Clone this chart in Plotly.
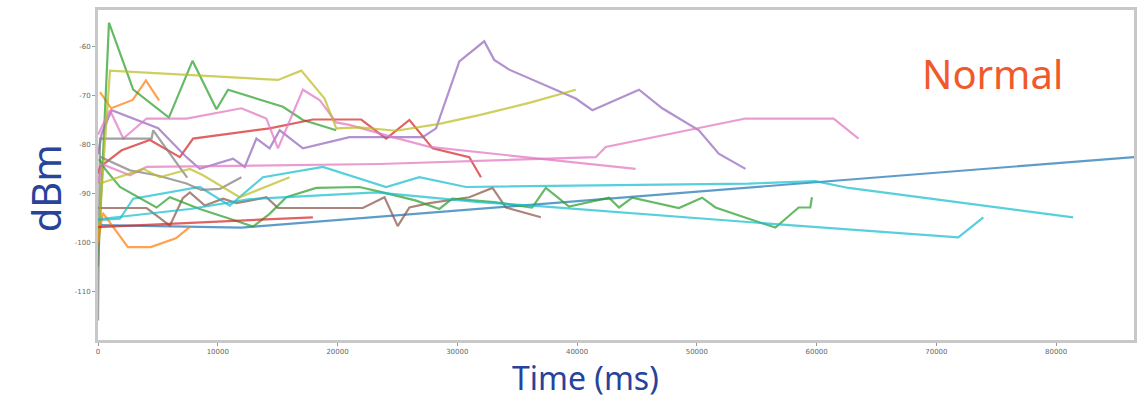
import plotly.graph_objects as go

# ---- data (time in ms, signal in dBm) ----
blue_t = [0, 300, 12000, 88000]
blue_v = [-97.5, -96.5, -97.0, -82.3]

orange1_t = [170, 1100, 2900, 4000, 5100]
orange1_v = [-69.3, -72.6, -70.9, -66.9, -71.0]

orange2_t = [0, 400, 2500, 4400, 6500, 7700]
orange2_v = [-100.0, -94.0, -101.0, -101.0, -99.2, -96.8]

greenA_t = [0, 917, 2940, 5920, 7890, 9890, 10860, 15440, 17110, 19890]
greenA_v = [-105.0, -55.1, -68.8, -74.5, -62.9, -72.8, -68.8, -72.3, -75.0, -77.1]

greenB_t = [100, 583, 1833, 4890, 6000, 8500, 11000, 12940, 14330, 15720, 18220, 21830,
            23780, 26560, 28500, 29580, 33080, 36250, 37390, 39330, 42670, 43500, 44610,
            48500, 50440, 51560, 54330, 56560, 58500, 59470, 59610]
greenB_v = [-83.0, -85.0, -88.7, -92.9, -90.8, -93.2, -95.2, -96.8, -94.2, -90.8, -88.9, -88.7,
            -89.8, -91.5, -93.2, -91.1, -91.8, -92.9, -88.9, -92.7, -90.9, -92.9, -90.9,
            -93.0, -90.9, -92.9, -95.2, -97.0, -92.9, -92.9, -90.8]

redA_t = [0, 167, 1975, 4333, 6833, 7940, 14330, 17940, 21975, 24060, 26000, 27940, 31000, 31975]
redA_v = [-86.0, -84.6, -81.2, -79.1, -82.6, -78.8, -76.7, -74.9, -74.9, -78.8, -75.0, -80.8, -82.6, -86.7]

redB_t = [0, 17940]
redB_v = [-96.9, -94.9]

purple_t = [0, 308, 1140, 5025, 7390, 8500, 11275, 12250, 13225, 14330, 15170, 17110, 21000,
            24330, 27110, 28225, 30170, 32250, 33080, 34330, 39890, 41275, 45170, 47110,
            50170, 51830, 54060]
purple_v = [-82.0, -77.8, -73.0, -76.7, -82.6, -85.0, -82.9, -84.6, -78.8, -80.8, -77.1, -80.8, -78.5,
            -78.5, -78.5, -76.7, -63.0, -58.9, -62.7, -64.7, -70.6, -73.0, -68.8, -72.6,
            -77.1, -81.9, -85.0]

brown_t = [0, 167, 4060, 6000, 7080, 7670, 8920, 10440, 11560, 12670, 14060, 15025, 22110,
           23920, 25025, 26000, 27670, 31000, 32940, 34060, 36975]
brown_v = [-93.0, -93.0, -93.0, -96.6, -91.0, -89.8, -92.5, -91.1, -92.0, -91.5, -90.8, -93.0, -93.0,
           -90.8, -96.7, -92.9, -92.0, -90.8, -88.9, -92.9, -94.9]

pinkA_t = [0, 1000, 2110, 4060, 7390, 11975, 14060, 15025, 17110, 18500, 19890, 21000, 24610, 27670, 44890]
pinkA_v = [-78.0, -73.0, -78.8, -74.7, -74.7, -72.6, -74.7, -80.8, -68.8, -70.9, -75.5, -76.0, -78.5, -80.5, -85.0]

pinkB_t = [0, 308, 2667, 4060, 23500, 41560, 42390, 54060, 61420, 63500]
pinkB_v = [-88.0, -84.0, -86.3, -84.6, -84.0, -82.6, -80.5, -74.7, -74.7, -78.8]

grayA_t = [0, 167, 4475, 4610, 6000, 7450]
grayA_v = [-116.0, -78.8, -78.8, -77.1, -81.9, -86.8]

grayB_t = [167, 2667, 4890, 7390, 8610, 10170, 11975]
grayB_v = [-82.5, -85.3, -86.3, -88.0, -89.3, -89.1, -86.7]

oliveA_t = [0, 1000, 15025, 16975, 18920, 19890, 21830, 24890, 28500, 31830, 36000, 39060, 39890]
oliveA_v = [-100.0, -64.9, -66.8, -64.9, -70.6, -76.7, -76.5, -77.2, -75.8, -74.0, -71.5, -69.5, -68.8]

oliveB_t = [167, 3775, 5170, 7670, 8775, 11830, 16000]
oliveB_v = [-88.0, -85.0, -86.7, -85.0, -86.3, -90.8, -86.7]

cyanA_t = [0, 1833, 2940, 8500, 11000, 11830, 13775, 18775, 24060, 26830, 30725, 54330, 59890, 62670, 81420]
cyanA_v = [-95.5, -95.2, -91.1, -88.7, -92.5, -90.8, -86.7, -84.6, -88.7, -86.7, -88.7, -88.0, -87.5, -88.9, -94.9]

cyanB_t = [0, 1833, 7670, 12670, 23225, 31830, 36275, 56560, 71830, 73920]
cyanB_v = [-95.3, -94.8, -93.2, -91.2, -89.8, -91.8, -92.5, -96.3, -99.0, -94.9]

x_ticks = [0, 10000, 20000, 30000, 40000, 50000, 60000, 70000, 80000]
y_ticks = [-60, -70, -80, -90, -100, -110]

series = [
    (blue_t, blue_v, "#1f77b4"),
    (orange1_t, orange1_v, "#ff7f0e"),
    (greenA_t, greenA_v, "#2ca02c"),
    (redA_t, redA_v, "#d62728"),
    (purple_t, purple_v, "#9467bd"),
    (brown_t, brown_v, "#8c564b"),
    (pinkA_t, pinkA_v, "#e377c2"),
    (grayA_t, grayA_v, "#7f7f7f"),
    (oliveA_t, oliveA_v, "#bcbd22"),
    (cyanA_t, cyanA_v, "#17becf"),
    (orange2_t, orange2_v, "#ff7f0e"),
    (greenB_t, greenB_v, "#2ca02c"),
    (redB_t, redB_v, "#d62728"),
    (pinkB_t, pinkB_v, "#e377c2"),
    (grayB_t, grayB_v, "#7f7f7f"),
    (oliveB_t, oliveB_v, "#bcbd22"),
    (cyanB_t, cyanB_v, "#17becf"),
]

fig = go.Figure()
for t, v, c in series:
    fig.add_trace(go.Scatter(x=t, y=v, mode="lines",
                             line=dict(color=c, width=2.2), opacity=0.72,
                             showlegend=False, hoverinfo="skip"))

fig.update_layout(
    width=1142, height=399,
    margin=dict(l=98, r=5, t=10, b=59),
    paper_bgcolor="white", plot_bgcolor="white",
    showlegend=False,
)
fig.update_xaxes(range=[0, 86500], tickvals=x_ticks, ticktext=[str(x) for x in x_ticks],
                 showgrid=False, zeroline=False, showline=True, mirror=True,
                 linecolor="#c8c8c8", linewidth=3, ticks="outside", ticklen=3,
                 tickcolor="#999", tickfont=dict(family="DejaVu Sans", size=7, color="#666"))
fig.update_yaxes(range=[-120, -52.5], tickvals=y_ticks, ticktext=[str(y) for y in y_ticks],
                 showgrid=False, zeroline=False, showline=True, mirror=True,
                 linecolor="#c8c8c8", linewidth=3, ticks="outside", ticklen=3,
                 tickcolor="#999", tickfont=dict(family="DejaVu Sans", size=7, color="#666"))

title_color = "#27439a"
fig.add_annotation(text="dBm", xref="paper", yref="paper", x=-0.051, y=0.46,
                   xanchor="center", yanchor="middle",
                   showarrow=False, textangle=-90,
                   font=dict(family="Noto Sans", size=40, color=title_color))
fig.add_annotation(text="Time (ms)", xref="paper", yref="paper", x=0.4707, y=-0.115,
                   xanchor="center", yanchor="middle", borderpad=0,
                   showarrow=False,
                   font=dict(family="Noto Sans", size=32, color=title_color))
fig.add_annotation(text="Normal", xref="paper", yref="paper", x=0.863, y=0.809,
                   xanchor="center", yanchor="middle",
                   showarrow=False,
                   font=dict(family="Noto Sans", size=40, color="#f05a2b"))

fig.write_html("out.html")
